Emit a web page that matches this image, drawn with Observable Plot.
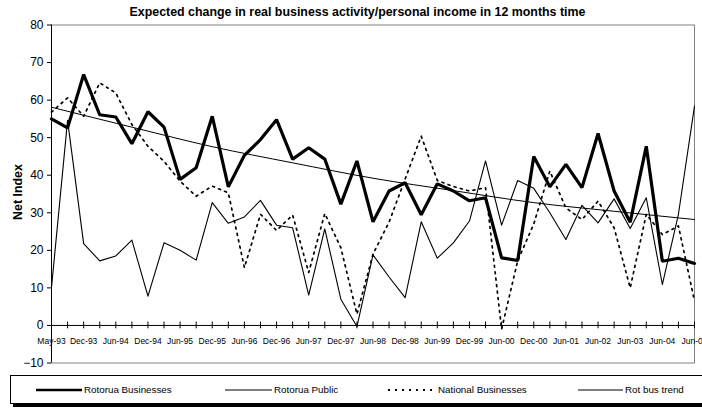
<!DOCTYPE html>
<html><head><meta charset="utf-8">
<script src="https://cdn.jsdelivr.net/npm/d3@7"></script>
<script src="https://cdn.jsdelivr.net/npm/@observablehq/plot@0.6"></script>
<style>
body{margin:0;background:#fff;}
#wrap{position:relative;width:702px;height:408px;overflow:hidden;background:#fff;}
#title{position:absolute;top:4px;left:0;width:715px;text-align:center;font-weight:bold;line-height:16px;color:#000;white-space:nowrap;}
#chart{position:absolute;top:20px;left:0;}
#legend{position:absolute;left:10px;top:375px;width:720px;height:27px;border:1px solid #000;box-shadow:3px 3px 0 #000;background:#fff;}
.item{position:absolute;top:0;height:27px;display:flex;align-items:center;white-space:nowrap;color:#000;}
.item svg{margin-right:2px;}
</style></head>
<body>
<div id="wrap">
  <div id="title">Expected change in real business activity/personal income in 12 months time</div>
  <div id="chart"></div>
  <div id="legend"></div>
</div>
<script>
// ---- data ----
const periods = ["May-93","Aug-93","Dec-93","Mar-94","Jun-94","Sep-94","Dec-94","Mar-95","Jun-95","Sep-95","Dec-95","Mar-96","Jun-96","Sep-96","Dec-96","Mar-97","Jun-97","Sep-97","Dec-97","Mar-98","Jun-98","Sep-98","Dec-98","Mar-99","Jun-99","Sep-99","Dec-99","Mar-00","Jun-00","Sep-00","Dec-00","Jan-01","Jun-01","Dec-01","Jun-02","Dec-02","Jun-03","Dec-03","Jun-04","Dec-04","Jun-05"];
const tickLabels = ["May-93","Dec-93","Jun-94","Dec-94","Jun-95","Dec-95","Jun-96","Dec-96","Jun-97","Dec-97","Jun-98","Dec-98","Jun-99","Dec-99","Jun-00","Dec-00","Jun-01","Jun-02","Jun-03","Jun-04","Jun-05"];
const rotoruaBusinesses = [55.0,52.6,66.8,56.1,55.5,48.4,56.9,52.8,38.9,42.0,55.7,36.9,45.3,49.5,54.8,44.3,47.3,44.3,32.3,43.8,27.6,35.8,38.0,29.5,37.7,35.8,33.2,34.0,18.0,17.3,45.0,36.9,42.9,36.7,51.1,35.8,27.5,47.7,17.1,17.9,16.5];
const rotoruaPublic = [10.1,54.6,21.8,17.2,18.5,22.7,7.8,22.0,20.0,17.4,32.7,27.2,28.9,33.3,26.7,26.0,8.1,25.7,7.0,-0.3,18.8,12.9,7.4,27.6,17.9,22.0,27.8,43.8,26.7,38.6,36.5,30.0,22.9,32.0,27.3,33.7,25.8,34.0,10.9,29.6,58.4];
const nationalBusinesses = [56.8,60.6,55.7,64.6,61.9,53.5,47.7,43.7,38.4,34.4,37.1,35.3,15.4,29.6,25.3,29.4,14.1,29.8,20.7,3.0,19.0,27.5,39.0,50.4,38.6,37.0,35.8,36.7,-1.0,17.2,27.0,41.1,31.3,28.2,33.1,26.0,10.0,29.6,24.2,26.5,6.5];
// Rot bus trend at every fifth period
const trendIndex = [0,5,10,15,20,25,30,35,40];
const rotBusTrend = [58.1,52.8,47.6,43.3,39.2,35.9,32.7,30.4,28.2];
const yTicks = [-10,0,10,20,30,40,50,60,70,80];
const seriesNames = ["Rotorua Businesses","Rotorua Public","National Businesses","Rot bus trend"];

const F = '"Liberation Sans",Arial,sans-serif';

const idx = d3.range(rotoruaBusinesses.length);
const rows = idx.map(i => ({i, period: periods[i], bus: rotoruaBusinesses[i], pub: rotoruaPublic[i], nat: nationalBusinesses[i]}));
const trendRows = trendIndex.map((i,k) => ({i, v: rotBusTrend[k]}));
const labelRows = tickLabels.map((t,k) => ({i: k*2, t}));

const chart = Plot.plot({
  width: 702, height: 350,
  marginLeft: 51, marginRight: 8, marginTop: 4.5, marginBottom: 7.5,
  style: {fontFamily: F, background: "white", color: "black", overflow: "visible"},
  x: {type: "linear", domain: [0, 40], axis: null},
  y: {domain: [-10, 80], axis: null},
  marks: [
    Plot.frame({stroke: "#808080"}),
    Plot.axisY({ticks: yTicks, tickSize: 4, tickPadding: 4, fontSize: 12, label: null}),
    Plot.ruleX([0], {stroke: "black", strokeWidth: 1}),
    Plot.ruleY([0], {stroke: "black", strokeWidth: 1}),
    Plot.ruleX(idx, {x: d => d, y1: -0.9, y2: 0.9, stroke: "black", strokeWidth: 1}),
    Plot.text(labelRows, {x: "i", y: () => 0, dy: 16, text: "t", fontSize: 8.5, fill: "black"}),
    Plot.text(["Net Index"], {frameAnchor: "left", textAnchor: "middle", lineAnchor: "middle", dx: -33, dy: -2, rotate: -90, fontSize: 12.4, fontWeight: "bold", fill: "black"}),
    Plot.line(rows, {x: "i", y: "pub", stroke: "black", strokeWidth: 1.1}),
    Plot.line(rows, {x: "i", y: "nat", stroke: "black", strokeWidth: 1.7, strokeDasharray: "2,4.5"}),
    Plot.line(trendRows, {x: "i", y: "v", stroke: "black", strokeWidth: 1, curve: "monotone-x"}),
    Plot.line(rows, {x: "i", y: "bus", stroke: "black", strokeWidth: 3.2, strokeLinejoin: "miter"})
  ]
});
document.getElementById("chart").appendChild(chart);

const title = document.getElementById("title");
title.style.fontFamily = F; title.style.fontSize = "12.4px";

// ---- legend ----
const legend = document.getElementById("legend");
legend.style.fontFamily = F; legend.style.fontSize = "9.8px";
const legItems = [
  {name: seriesNames[0], left: 25, w: 46, sw: 2.6, dash: null},
  {name: seriesNames[1], left: 214, w: 47, sw: 1, dash: null},
  {name: seriesNames[2], left: 377, w: 48, sw: 1.8, dash: "2,5"},
  {name: seriesNames[3], left: 567, w: 45, sw: 1, dash: null}
];
for (const it of legItems) {
  const d = document.createElement("div");
  d.className = "item"; d.style.left = it.left + "px";
  d.innerHTML = `<svg width="${it.w}" height="8"><line x1="0" x2="${it.w}" y1="4" y2="4" stroke="black" stroke-width="${it.sw}" ${it.dash ? `stroke-dasharray="${it.dash}"` : ""}/></svg><span>${it.name}</span>`;
  legend.appendChild(d);
}
</script>
</body></html>
